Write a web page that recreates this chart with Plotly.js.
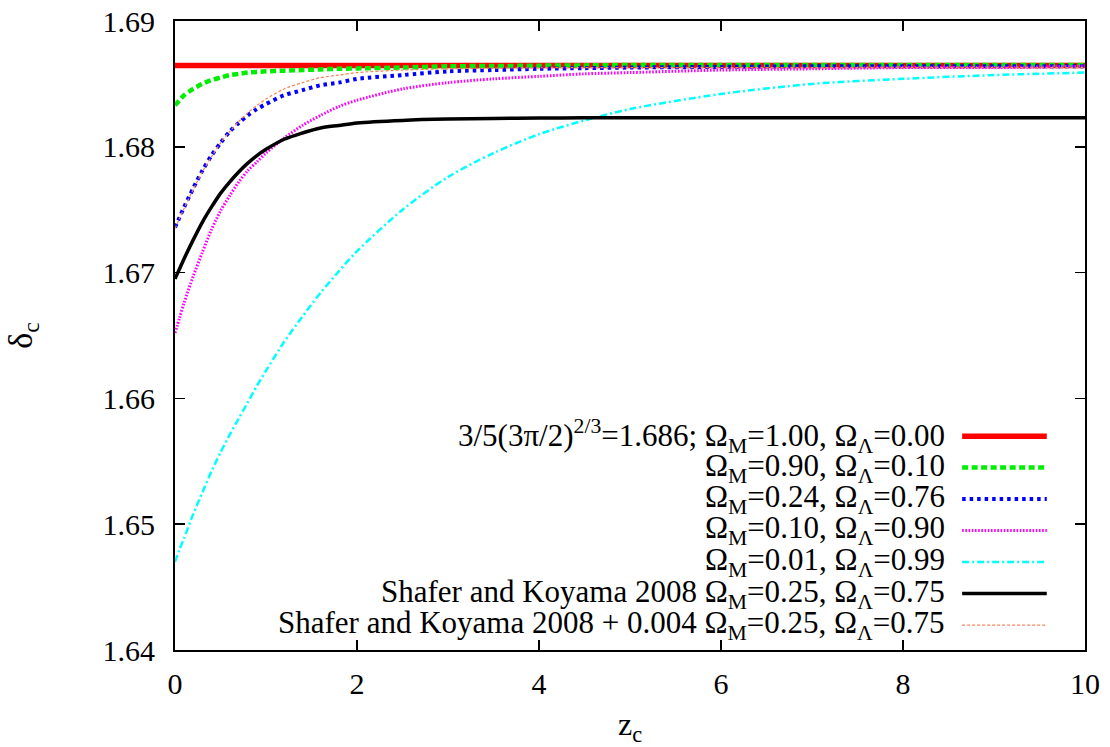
<!DOCTYPE html>
<html>
<head>
<meta charset="utf-8">
<script src="https://cdn.plot.ly/plotly-3.0.1.min.js"></script>
<style>html,body{margin:0;padding:0;background:#fff;}#chart{width:1110px;height:747px;}</style>
</head>
<body>
<div id="chart"></div>
<script>
// ---- data ----
const zRed = [0, 10];
const deltaRed = [1.68647, 1.68647];

const zGrid = [0, 0.05, 0.1, 0.2, 0.3, 0.4, 0.5, 0.6, 0.7, 0.8, 0.9, 1.0, 1.2, 1.4, 1.6, 1.8, 2.0, 2.5, 3.0, 3.5, 4.0, 4.5, 5.0, 6.0, 7.0, 8.0, 9.0, 10.0];

const deltaOm090 = [1.6833, 1.6837, 1.6841, 1.6846, 1.6850, 1.6853, 1.6855, 1.6857, 1.6858, 1.6859, 1.68595, 1.6860, 1.68605, 1.6861, 1.68615, 1.6862, 1.68623, 1.6863, 1.6864, 1.68642, 1.68645, 1.68647, 1.6865, 1.6865, 1.6865, 1.6865, 1.6865, 1.6865];

const deltaOm024 = [1.6736, 1.6744, 1.6752, 1.6767, 1.6781, 1.6793, 1.6803, 1.6812, 1.6819, 1.6825, 1.6830, 1.6834, 1.6841, 1.6845, 1.6849, 1.6851, 1.6854, 1.6857, 1.6860, 1.6861, 1.6862, 1.68625, 1.6863, 1.68635, 1.6864, 1.6864, 1.6864, 1.6864];

const deltaOm010 = [1.6652, 1.6664, 1.6676, 1.6697, 1.6716, 1.6734, 1.6749, 1.6761, 1.6772, 1.6781, 1.6788, 1.6795, 1.6807, 1.6817, 1.6825, 1.6832, 1.6837, 1.6846, 1.6851, 1.6854, 1.6856, 1.6858, 1.6859, 1.6861, 1.6862, 1.6863, 1.6863, 1.6864];

const deltaOm001 = [1.6470, 1.6480, 1.6489, 1.6508, 1.6525, 1.6542, 1.6557, 1.6571, 1.6584, 1.6597, 1.6610, 1.6622, 1.6645, 1.6665, 1.6684, 1.6701, 1.6717, 1.6750, 1.6776, 1.6795, 1.6810, 1.6821, 1.6830, 1.6842, 1.6850, 1.6854, 1.6857, 1.6859];

const deltaShafer = [1.6695, 1.6703, 1.6711, 1.6726, 1.6740, 1.6752, 1.6763, 1.6772, 1.6780, 1.6787, 1.6793, 1.6798, 1.6806, 1.6811, 1.6815, 1.6817, 1.6819, 1.6821, 1.6822, 1.68225, 1.68228, 1.6823, 1.6823, 1.6823, 1.6823, 1.6823, 1.6823, 1.6823];

const deltaShaferPlus = [1.6735, 1.6743, 1.6751, 1.6766, 1.6780, 1.6792, 1.6803, 1.6812, 1.6820, 1.6827, 1.6833, 1.6838, 1.6846, 1.6851, 1.6855, 1.6857, 1.6859, 1.6861, 1.6862, 1.68625, 1.68628, 1.6863, 1.6863, 1.6863, 1.6863, 1.6863, 1.6863, 1.6863];

const legendLabels = [
  "3/5(3π/2)<sup>2/3</sup>=1.686; Ω<sub>M</sub>=1.00, Ω<sub>Λ</sub>=0.00",
  "Ω<sub>M</sub>=0.90, Ω<sub>Λ</sub>=0.10",
  "Ω<sub>M</sub>=0.24, Ω<sub>Λ</sub>=0.76",
  "Ω<sub>M</sub>=0.10, Ω<sub>Λ</sub>=0.90",
  "Ω<sub>M</sub>=0.01, Ω<sub>Λ</sub>=0.99",
  "Shafer and Koyama 2008 Ω<sub>M</sub>=0.25, Ω<sub>Λ</sub>=0.75",
  "Shafer and Koyama 2008 + 0.004 Ω<sub>M</sub>=0.25, Ω<sub>Λ</sub>=0.75"
];
const xTicks = [0, 2, 4, 6, 8, 10];
const yTicks = [1.64, 1.65, 1.66, 1.67, 1.68, 1.69];

// ---- styles ----
const styles = [
  {color: '#ff0000', width: 5.5, dash: 'solid'},
  {color: '#00ee00', width: 4.5, dash: '6px,3.5px'},
  {color: '#0000ff', width: 4, dash: '3.5px,4px'},
  {color: '#ff00ff', width: 3, dash: '1.6px,1.6px'},
  {color: '#00ffff', width: 2.5, dash: '7px,3px,2px,3px'},
  {color: '#000000', width: 3.5, dash: 'solid'},
  {color: '#f4845c', width: 1.2, dash: '3px,2px'}
];

const seriesX = [zRed, zGrid, zGrid, zGrid, zGrid, zGrid, zGrid];
const seriesY = [deltaRed, deltaOm090, deltaOm024, deltaOm010, deltaOm001, deltaShafer, deltaShaferPlus];
const traces = seriesX.map((xs, i) => ({
  x: xs, y: seriesY[i], type: 'scatter', mode: 'lines',
  line: {color: styles[i].color, width: styles[i].width, dash: styles[i].dash, shape: 'spline', smoothing: 0.8},
  showlegend: false, hoverinfo: 'skip'
}));

const FONT = 'Liberation Serif, Times New Roman, serif';
const FS = 30;
const LFS = 31;
const rowY = [0.340, 0.290, 0.240, 0.190, 0.140, 0.0898, 0.0397];
const annotations = [];
const shapes = [];
legendLabels.forEach((lab, i) => {
  annotations.push({xref: 'paper', yref: 'paper', x: 0.848, y: rowY[i], text: lab,
    showarrow: false, xanchor: 'right', yanchor: 'middle', align: 'right',
    font: {family: FONT, size: LFS, color: '#000'}});
  shapes.push({type: 'line', xref: 'paper', yref: 'paper', x0: 0.865, x1: 0.958, y0: rowY[i], y1: rowY[i],
    line: {color: styles[i].color, width: styles[i].width, dash: styles[i].dash}});
});

const axisCommon = {
  showline: true, mirror: 'ticks', linecolor: '#000', linewidth: 2,
  ticks: 'inside', ticklen: 10, tickwidth: 1.5, tickcolor: '#000',
  showgrid: false, zeroline: false,
  tickfont: {family: FONT, size: FS, color: '#000'}
};

const layout = {
  width: 1110, height: 747,
  margin: {l: 175, r: 25, t: 21, b: 97},
  paper_bgcolor: '#fff', plot_bgcolor: '#fff',
  xaxis: Object.assign({}, axisCommon, {
    range: [0, 10], tickvals: xTicks, ticktext: xTicks.map(String), ticklabelstandoff: 6,
    title: {text: 'z<sub>c</sub>', font: {family: FONT, size: 32, color: '#000'}, standoff: 14}
  }),
  yaxis: Object.assign({}, axisCommon, {
    range: [1.64, 1.69], tickvals: yTicks, ticktext: yTicks.map(v => v.toFixed(2)), ticklabelstandoff: 12,
    title: {text: 'δ<sub>c</sub>', font: {family: FONT, size: 34, color: '#000'}, standoff: 60}
  }),
  annotations: annotations,
  shapes: shapes
};

Plotly.newPlot('chart', traces, layout, {displayModeBar: false, staticPlot: true});
</script>
</body>
</html>
